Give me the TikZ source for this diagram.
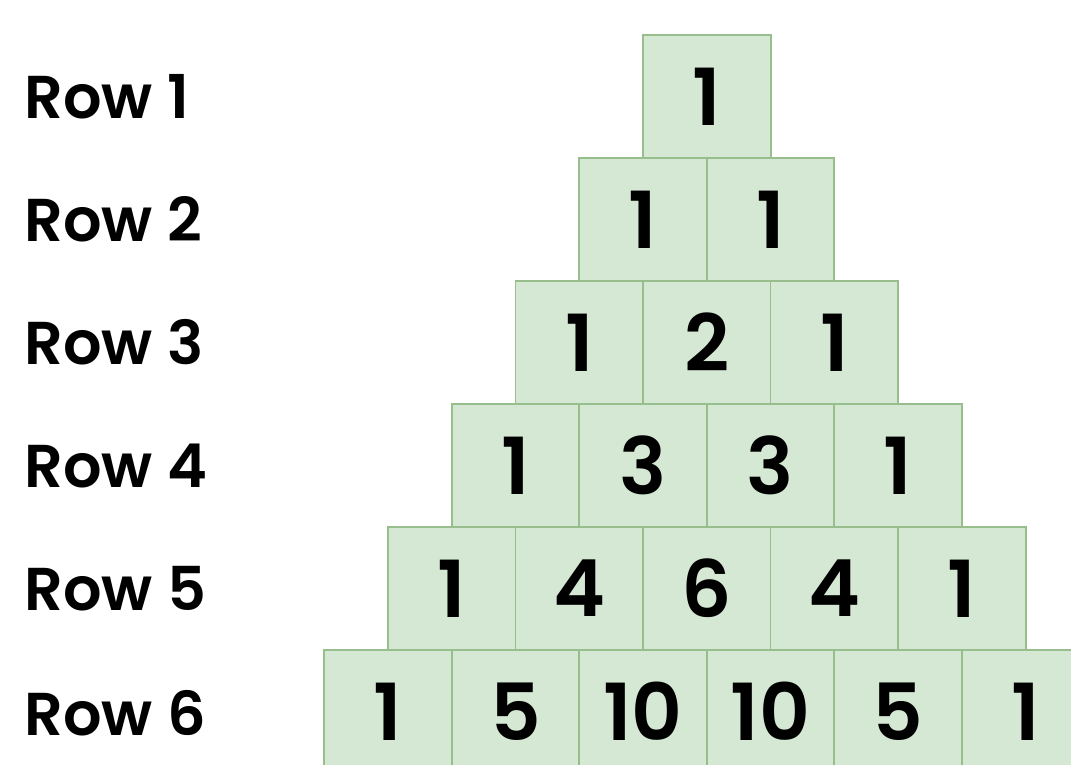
\documentclass[tikz,border=0pt]{standalone}
\usepackage{fontspec}
\setmainfont{Poppins}[BoldFont={Poppins SemiBold}]
\usepackage{tikz}
\usepackage{xcolor}
\definecolor{cellfill}{RGB}{213,232,212}
\definecolor{celledge}{RGB}{152,190,142}
\tikzset{
  cell/.style   ={draw=celledge, fill=cellfill, line width=1.4pt,
                  minimum width=3.1875cm, minimum height=3.075cm,
                  inner sep=0pt, font=\fontsize{56}{56}\selectfont\bfseries},
  rowlbl/.style ={anchor=west, inner sep=0pt,
                  font=\fontsize{43}{43}\selectfont\bfseries},
}
\begin{document}
\begin{tikzpicture}[x=0.025cm, y=-0.025cm]
  \useasboundingbox (0,0) rectangle (1071,764);
  \clip (0,0) rectangle (1071,764);
  % ---- row labels
  \node[rowlbl] (l1) at (24, 96.5)  {Row 1};
  \node[rowlbl] (l2) at (24, 219.5) {Row 2};
  \node[rowlbl] (l3) at (24, 342.5) {Row 3};
  \node[rowlbl] (l4) at (24, 465.5) {Row 4};
  \node[rowlbl] (l5) at (24, 588.5) {Row 5};
  \node[rowlbl] (l6) at (24, 713)   {Row 6};
  % ---- row 1
  \node[cell] (c11) at (706.75, 96.5) {1};
  % ---- row 2
  \node[cell] (c21) at (643.0, 219.5) {1};
  \node[cell] (c22) at (770.5, 219.5) {1};
  % ---- row 3
  \node[cell] (c31) at (579.25, 342.5) {1};
  \node[cell] (c32) at (706.75, 342.5) {2};
  \node[cell] (c33) at (834.25, 342.5) {1};
  % ---- row 4
  \node[cell] (c41) at (515.5, 465.5) {1};
  \node[cell] (c42) at (643.0, 465.5) {3};
  \node[cell] (c43) at (770.5, 465.5) {3};
  \node[cell] (c44) at (898.0, 465.5) {1};
  % ---- row 5
  \node[cell] (c51) at (451.75, 588.5) {1};
  \node[cell] (c52) at (579.25, 588.5) {4};
  \node[cell] (c53) at (706.75, 588.5) {6};
  \node[cell] (c54) at (834.25, 588.5) {4};
  \node[cell] (c55) at (961.75, 588.5) {1};
  % ---- row 6: runs past the right and bottom edges
  \node[cell] (c61) at (388.0, 711.5) {1};
  \node[cell] (c62) at (515.5, 711.5) {5};
  \node[cell] (c63) at (643.0, 711.5) {10};
  \node[cell] (c64) at (770.5, 711.5) {10};
  \node[cell] (c65) at (898.0, 711.5) {5};
  \node[cell] (c66) at (1025.5, 711.5) {1};
\end{tikzpicture}
\end{document}
